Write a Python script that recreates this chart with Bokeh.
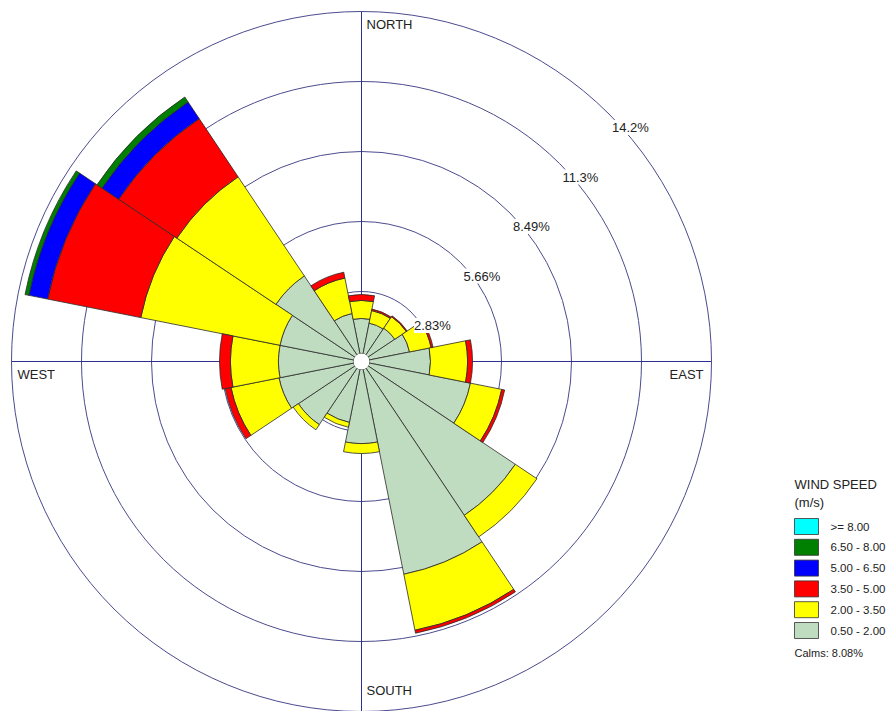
import numpy as np
from bokeh.plotting import figure
from bokeh.models import Label, ColumnDataSource, LabelSet
from bokeh.core.properties import value
from bokeh.embed import file_html
from bokeh.resources import INLINE

# ---------------- data ----------------
directions = ["N", "NNE", "NE", "ENE", "E", "ESE", "SE", "SSE",
              "S", "SSW", "SW", "WSW", "W", "WNW", "NW", "NNW"]
direction_deg = [0, 22.5, 45, 67.5, 90, 112.5, 135, 157.5,
                 180, 202.5, 225, 247.5, 270, 292.5, 315, 337.5]

speed_bins = ["0.50 - 2.00", "2.00 - 3.50", "3.50 - 5.00",
              "5.00 - 6.50", "6.50 - 8.00", ">= 8.00"]
bin_colors = ["#C0DCC0", "#FFFF00", "#FF0000", "#0000FF", "#008000", "#00FFFF"]

# frequency (%) per direction for each wind-speed class
freq_050_200 = [1.74, 1.58, 1.62, 1.98, 2.79, 4.49, 7.48, 8.77,
                3.32, 2.51, 3.07, 3.40, 3.36, 3.36, 4.16, 1.98]
freq_200_350 = [0.73, 0.52, 0.56, 0.89, 1.50, 1.29, 1.05, 2.31,
                0.40, 0.20, 0.25, 1.98, 1.94, 5.74, 4.82, 1.46]
freq_350_500 = [0.24, 0.06, 0.04, 0.08, 0.20, 0.12, 0.00, 0.12,
                0.00, 0.00, 0.00, 0.24, 0.44, 3.84, 2.83, 0.24]
freq_500_650 = [0.00, 0.00, 0.00, 0.00, 0.00, 0.00, 0.00, 0.00,
                0.00, 0.00, 0.00, 0.00, 0.00, 0.77, 0.81, 0.00]
freq_650_800 = [0.00, 0.00, 0.00, 0.00, 0.00, 0.00, 0.00, 0.00,
                0.00, 0.00, 0.00, 0.00, 0.00, 0.16, 0.24, 0.00]
freq_800_up = [0.00] * 16

ring_values = [2.83, 5.66, 8.49, 11.32, 14.15]
ring_labels = ["2.83%", "5.66%", "8.49%", "11.3%", "14.2%"]
compass_labels = ["NORTH", "EAST", "SOUTH", "WEST"]
legend_title = ["WIND SPEED", "(m/s)"]
calms_text = "Calms: 8.08%"

# ---------------- geometry / styles ----------------
W, H = 887, 711
CX, CY = 361, 361                 # centre of rose in figure pixels
R_MAX = ring_values[-1]
S = 350.0 / R_MAX                  # pixels per percent
CALM_R = 8.0 / S
FONT = "Liberation Sans"
TXT = "#222222"
RING_COLOR = "#4b4b8e"
AXIS_COLOR = "#2f2f8f"


def px(x_pix, y_pix):
    """figure pixel -> data coordinate"""
    return (x_pix - CX) / S, (CY - y_pix) / S


x0, y1 = px(0, 0)
x1, y0 = px(W, H)

p = figure(width=W, height=H, output_backend="svg", toolbar_location=None,
           x_range=(x0, x1), y_range=(y0, y1), min_border=0,
           outline_line_color=None, background_fill_color="white",
           border_fill_color="white")
p.xaxis.visible = False
p.yaxis.visible = False
p.grid.visible = False

# rings
p.circle(x=[0] * len(ring_values), y=[0] * len(ring_values), radius=ring_values,
         fill_color=None, line_color=RING_COLOR, line_width=1)
# axes
p.segment(x0=[-R_MAX, 0], y0=[0, -R_MAX], x1=[R_MAX, 0], y1=[0, R_MAX],
          line_color=AXIS_COLOR, line_width=1)

# wedges
series = [freq_050_200, freq_200_350, freq_350_500, freq_500_650, freq_650_800, freq_800_up]
half = np.deg2rad(11.25)
centers = np.pi / 2 - np.deg2rad(np.array(direction_deg))
cum = np.zeros(len(directions))
for vals, col in zip(series, bin_colors):
    vals = np.array(vals)
    inner = np.maximum(cum, CALM_R)
    outer = cum + vals
    mask = vals > 0
    if mask.any():
        src = ColumnDataSource(dict(
            x=np.zeros(mask.sum()), y=np.zeros(mask.sum()),
            ir=inner[mask], orr=outer[mask],
            sa=(centers - half)[mask], ea=(centers + half)[mask]))
        p.annular_wedge(x="x", y="y", inner_radius="ir", outer_radius="orr",
                        start_angle="sa", end_angle="ea", source=src,
                        fill_color=col, line_color="#2a2a2a", line_width=0.8)
    cum = outer

# calm circle
p.circle(x=[0], y=[0], radius=[CALM_R], fill_color="white", line_color=None)

# ring labels at 45 degrees
c45 = np.cos(np.pi / 4)
ring_src = ColumnDataSource(dict(x=[r * c45 for r in ring_values],
                                 y=[r * c45 for r in ring_values],
                                 t=ring_labels))
p.add_layout(LabelSet(x="x", y="y", text="t", source=ring_src,
                      text_align="left", text_baseline="top",
                      x_offset=3, y_offset=-6,
                      text_font=value(FONT), text_font_size=value("13px"),
                      text_color=TXT, background_fill_color="white"))


def lab(x, y, text, size="13px", **kw):
    p.add_layout(Label(x=x, y=y, text=text, text_font=FONT, text_font_size=size,
                       text_color=TXT, **kw))


# compass labels
lab(0, R_MAX, compass_labels[0], x_offset=5, y_offset=-5,
    text_align="left", text_baseline="top")
lab(0, -R_MAX, compass_labels[2], x_offset=5, y_offset=14,
    text_align="left", text_baseline="bottom")
lab(-R_MAX, 0, compass_labels[3], x_offset=6, y_offset=-5,
    text_align="left", text_baseline="top")
lab(R_MAX, 0, compass_labels[1], x_offset=-8, y_offset=-5,
    text_align="right", text_baseline="top")

# legend
LX = 794
tx, ty = px(LX, 484)
lab(tx, ty, legend_title[0], text_align="left", text_baseline="middle")
tx, ty = px(LX, 502)
lab(tx, ty, legend_title[1], text_align="left", text_baseline="middle")

leg_cols = bin_colors[::-1]
leg_txt = speed_bins[::-1]
lefts, rights, tops, bottoms, lx, ly = [], [], [], [], [], []
for i in range(len(leg_cols)):
    cy = 526 + 20.8 * i
    l, t = px(LX, cy - 8)
    r, b = px(LX + 24, cy + 8)
    lefts.append(l); rights.append(r); tops.append(t); bottoms.append(b)
    a, c = px(LX + 36, cy)
    lx.append(a); ly.append(c)
p.quad(left=lefts, right=rights, top=tops, bottom=bottoms,
       fill_color=leg_cols, line_color="#333333", line_width=0.8)
p.add_layout(LabelSet(x="x", y="y", text="t",
                      source=ColumnDataSource(dict(x=lx, y=ly, t=leg_txt)),
                      text_align="left", text_baseline="middle",
                      text_font=value(FONT), text_font_size=value("11.5px"),
                      text_color=TXT))
tx, ty = px(LX, 652)
lab(tx, ty, calms_text, size="11px", text_align="left", text_baseline="middle")

open("out.html", "w").write(file_html(p, INLINE))
